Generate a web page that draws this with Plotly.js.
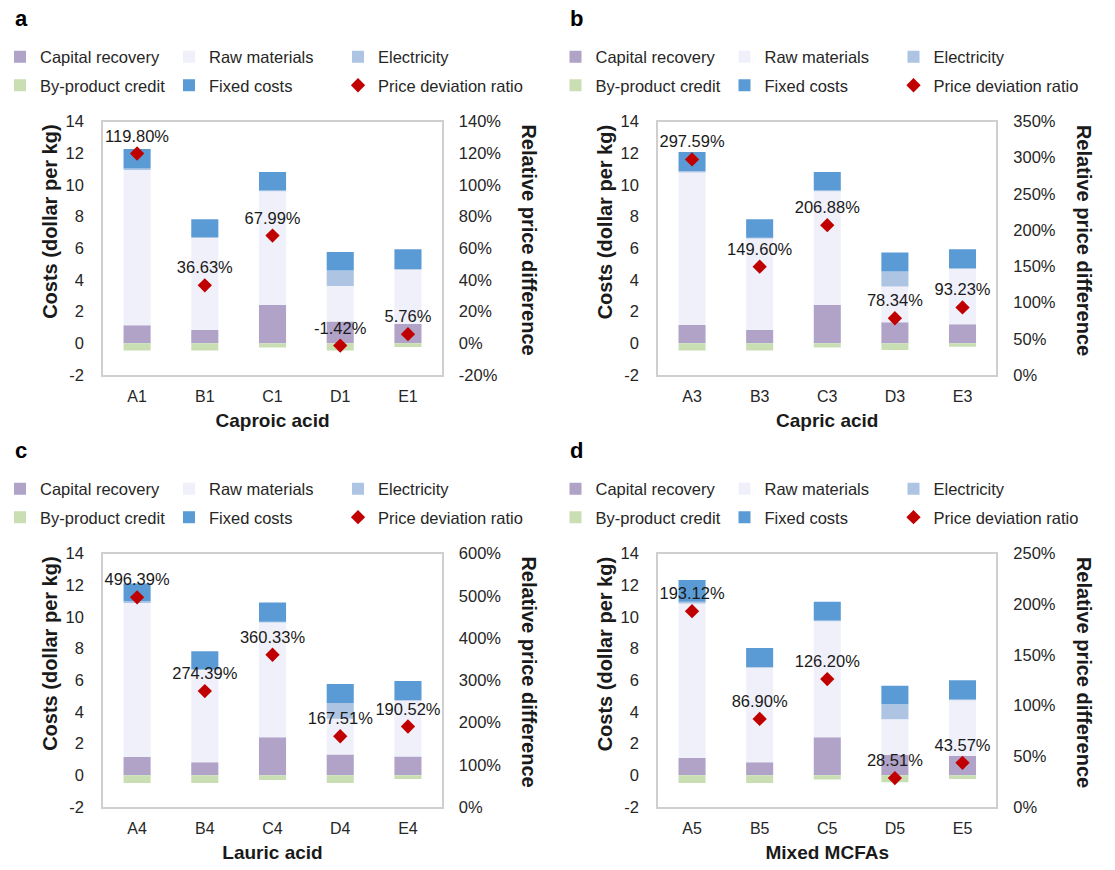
<!DOCTYPE html>
<html><head><meta charset="utf-8">
<script src="https://cdn.plot.ly/plotly-3.0.1.min.js"></script>
<style>body{margin:0;background:#fff}</style>
</head><body><div id="chart" style="width:1115px;height:870px"></div>
<script>
// ---------- data ----------
const seriesNames = ['Capital recovery','Raw materials','Electricity','By-product credit','Fixed costs','Price deviation ratio'];
const panelLetters = ['a','b','c','d'];
const panelTitles = ['Caproic acid','Capric acid','Lauric acid','Mixed MCFAs'];

const catsA = ['A1','B1','C1','D1','E1'];
const capA  = [1.14, 0.84, 2.42, 1.37, 1.22];
const rawA  = [9.80, 5.80, 7.17, 2.25, 3.42];
const elecA = [0.10, 0.05, 0.05, 0.97, 0.05];
const bypA  = [-0.46, -0.46, -0.27, -0.46, -0.23];
const fixA  = [1.23, 1.14, 1.18, 1.18, 1.25];
const ratioA = [119.80, 36.63, 67.99, -1.42, 5.76];

const catsB = ['A3','B3','C3','D3','E3'];
const capB  = [1.16, 0.84, 2.42, 1.33, 1.20];
const rawB  = [9.62, 5.78, 7.17, 2.25, 3.49];
const elecB = [0.10, 0.05, 0.05, 0.95, 0.05];
const bypB  = [-0.46, -0.46, -0.27, -0.42, -0.21];
const fixB  = [1.19, 1.16, 1.18, 1.20, 1.20];
const ratioB = [297.59, 149.60, 206.88, 78.34, 93.23];

const catsC = ['A4','B4','C4','D4','E4'];
const capC  = [1.15, 0.83, 2.40, 1.32, 1.19];
const rawC  = [9.73, 5.81, 7.25, 2.25, 3.52];
const elecC = [0.10, 0.05, 0.05, 0.99, 0.05];
const bypC  = [-0.49, -0.49, -0.30, -0.49, -0.23];
const fixC  = [1.12, 1.14, 1.20, 1.21, 1.20];
const ratioC = [496.39, 274.39, 360.33, 167.51, 190.52];

const catsD = ['A5','B5','C5','D5','E5'];
const capD  = [1.09, 0.82, 2.40, 1.30, 1.24];
const rawD  = [9.76, 5.97, 7.32, 2.24, 3.49];
const elecD = [0.10, 0.05, 0.05, 0.94, 0.05];
const bypD  = [-0.48, -0.48, -0.27, -0.44, -0.23];
const fixD  = [1.37, 1.20, 1.18, 1.18, 1.22];
const ratioD = [193.12, 86.90, 126.20, 28.51, 43.57];

const costTicks = [-2, 0, 2, 4, 6, 8, 10, 12, 14];
const ratioTicksA = [-20, 0, 20, 40, 60, 80, 100, 120, 140];
const ratioTicksB = [0, 50, 100, 150, 200, 250, 300, 350];
const ratioTicksC = [0, 100, 200, 300, 400, 500, 600];
const ratioTicksD = [0, 50, 100, 150, 200, 250];

// ---------- build ----------
const W = 1115, H = 870;
const FONT = 'Liberation Sans, Arial, sans-serif';
const colors = ['#b0a3c7', '#f0f0fa', '#adc4e2', '#c9dfb3', '#5b9bd5', '#c00000'];

const panels = [
  {cats: catsA, cap: capA, raw: rawA, elec: elecA, byp: bypA, fix: fixA, ratio: ratioA, rt: ratioTicksA},
  {cats: catsB, cap: capB, raw: rawB, elec: elecB, byp: bypB, fix: fixB, ratio: ratioB, rt: ratioTicksB},
  {cats: catsC, cap: capC, raw: rawC, elec: elecC, byp: bypC, fix: fixC, ratio: ratioC, rt: ratioTicksC},
  {cats: catsD, cap: capD, raw: rawD, elec: elecD, byp: bypD, fix: fixD, ratio: ratioD, rt: ratioTicksD}
];

// pixel geometry of each plot frame [left, right, top, bottom]
const frames = [
  [100.5, 440, 121.5, 375],
  [657, 996, 121.5, 375],
  [100.5, 440, 553.5, 807],
  [657, 996, 553.5, 807]
];
const dx = [0, 557, 0, 557];
const dy = [0, 0, 432, 432];

const traces = [];
const layout = {
  width: W, height: H,
  margin: {l: 0, r: 0, t: 0, b: 0},
  paper_bgcolor: '#fff', plot_bgcolor: '#fff',
  barmode: 'relative', bargap: 0.6,
  font: {family: FONT, size: 16, color: '#262626'},
  annotations: [],
  showlegend: true
};

panels.forEach((p, i) => {
  const xa = 'x' + (i === 0 ? '' : i + 1);
  const yl = 'y' + (2 * i === 0 ? '' : 2 * i + 1);
  const yr = 'y' + (2 * i + 2);
  const lg1 = 'legend' + (2 * i === 0 ? '' : 2 * i + 1);
  const lg2 = 'legend' + (2 * i + 2);
  const barSeries = [
    [p.cap, 0, lg1], [p.raw, 1, lg1], [p.elec, 2, lg1], [p.fix, 4, lg2], [p.byp, 3, lg2]
  ];
  barSeries.forEach(([vals, k, lg]) => {
    traces.push({
      type: 'bar', x: p.cats, y: vals, name: seriesNames[k],
      xaxis: xa, yaxis: yl, legend: lg, legendrank: k,
      marker: {color: colors[k], line: {width: 0}},
      hoverinfo: 'x+y+name'
    });
  });
  traces.push({
    type: 'scatter', mode: 'markers+text', x: p.cats, y: p.ratio,
    name: seriesNames[5], xaxis: xa, yaxis: yr, legend: lg2, legendrank: 5,
    legendwidth: 170,
    marker: {symbol: 'diamond', size: 11, color: colors[5]},
    text: p.ratio.map(v => v.toFixed(2) + '%'),
    textposition: 'top center',
    textfont: {family: FONT, size: 16.5, color: '#1a1a1a'},
    cliponaxis: false
  });

  const f = frames[i];
  const xdom = [f[0] / W, f[1] / W];
  const ydom = [1 - f[3] / H, 1 - f[2] / H];
  const xKey = 'xaxis' + (i === 0 ? '' : i + 1);
  const ylKey = 'yaxis' + (2 * i === 0 ? '' : 2 * i + 1);
  const yrKey = 'yaxis' + (2 * i + 2);
  layout[xKey] = {
    domain: xdom, anchor: yl, type: 'category',
    showline: true, mirror: true, linecolor: '#cfcfcf', linewidth: 2,
    showgrid: false, ticks: '', ticklabelstandoff: 6,
    tickfont: {size: 16},
    title: {text: '<b>' + panelTitles[i] + '</b>', font: {size: 19, color: '#1a1a1a'}, standoff: 9}
  };
  layout[ylKey] = {
    domain: ydom, anchor: xa, range: [-2, 14],
    tickvals: costTicks, ticktext: costTicks.map(v => String(v)),
    showline: true, mirror: true, linecolor: '#cfcfcf', linewidth: 2,
    showgrid: false, zeroline: false, ticks: '', ticklabelstandoff: 14,
    tickfont: {size: 16.5}
  };
  const rt = p.rt;
  layout[yrKey] = {
    domain: ydom, anchor: xa, overlaying: yl, side: 'right',
    range: [rt[0], rt[rt.length - 1]],
    tickvals: rt, ticktext: rt.map(v => String(v) + '%'),
    showline: false, showgrid: false, zeroline: false, ticks: '', ticklabelstandoff: 16,
    tickfont: {size: 16.5}
  };

  // legends (two rows)
  const rowY1 = 57 + dy[i], rowY2 = 85.5 + dy[i];
  const lx = (-3 + dx[i]) / W;
  const legendBase = {orientation: 'h', x: lx, xanchor: 'left', yanchor: 'middle',
    entrywidth: 124, entrywidthmode: 'pixels', bgcolor: 'rgba(0,0,0,0)',
    font: {family: FONT, size: 16.5, color: '#262626'}, traceorder: 'normal', itemclick: false};
  layout[lg1] = Object.assign({}, legendBase, {y: 1 - rowY1 / H});
  layout[lg2] = Object.assign({}, legendBase, {y: 1 - rowY2 / H});

  // panel letter
  layout.annotations.push({
    text: '<b>' + panelLetters[i] + '</b>', xref: 'paper', yref: 'paper',
    x: (10 + dx[i]) / W, y: 1 - (18 + dy[i]) / H, xanchor: 'left', yanchor: 'middle',
    showarrow: false, font: {family: FONT, size: 22, color: '#000'}
  });
  // y-axis titles
  layout.annotations.push({
    text: '<b>Costs (dollar per kg)</b>', xref: 'paper', yref: 'paper',
    x: (47 + dx[i]) / W, y: 1 - (222 + dy[i]) / H, xanchor: 'center', yanchor: 'middle',
    textangle: -90, showarrow: false, font: {family: FONT, size: 20, color: '#1a1a1a'}
  });
  layout.annotations.push({
    text: '<b>Relative price difference</b>', xref: 'paper', yref: 'paper',
    x: (527 + dx[i]) / W, y: 1 - (240 + dy[i]) / H, xanchor: 'center', yanchor: 'middle',
    textangle: 90, showarrow: false, font: {family: FONT, size: 20, color: '#1a1a1a'}
  });
});

Plotly.newPlot('chart', traces, layout, {displayModeBar: false, staticPlot: true});
</script></body></html>
